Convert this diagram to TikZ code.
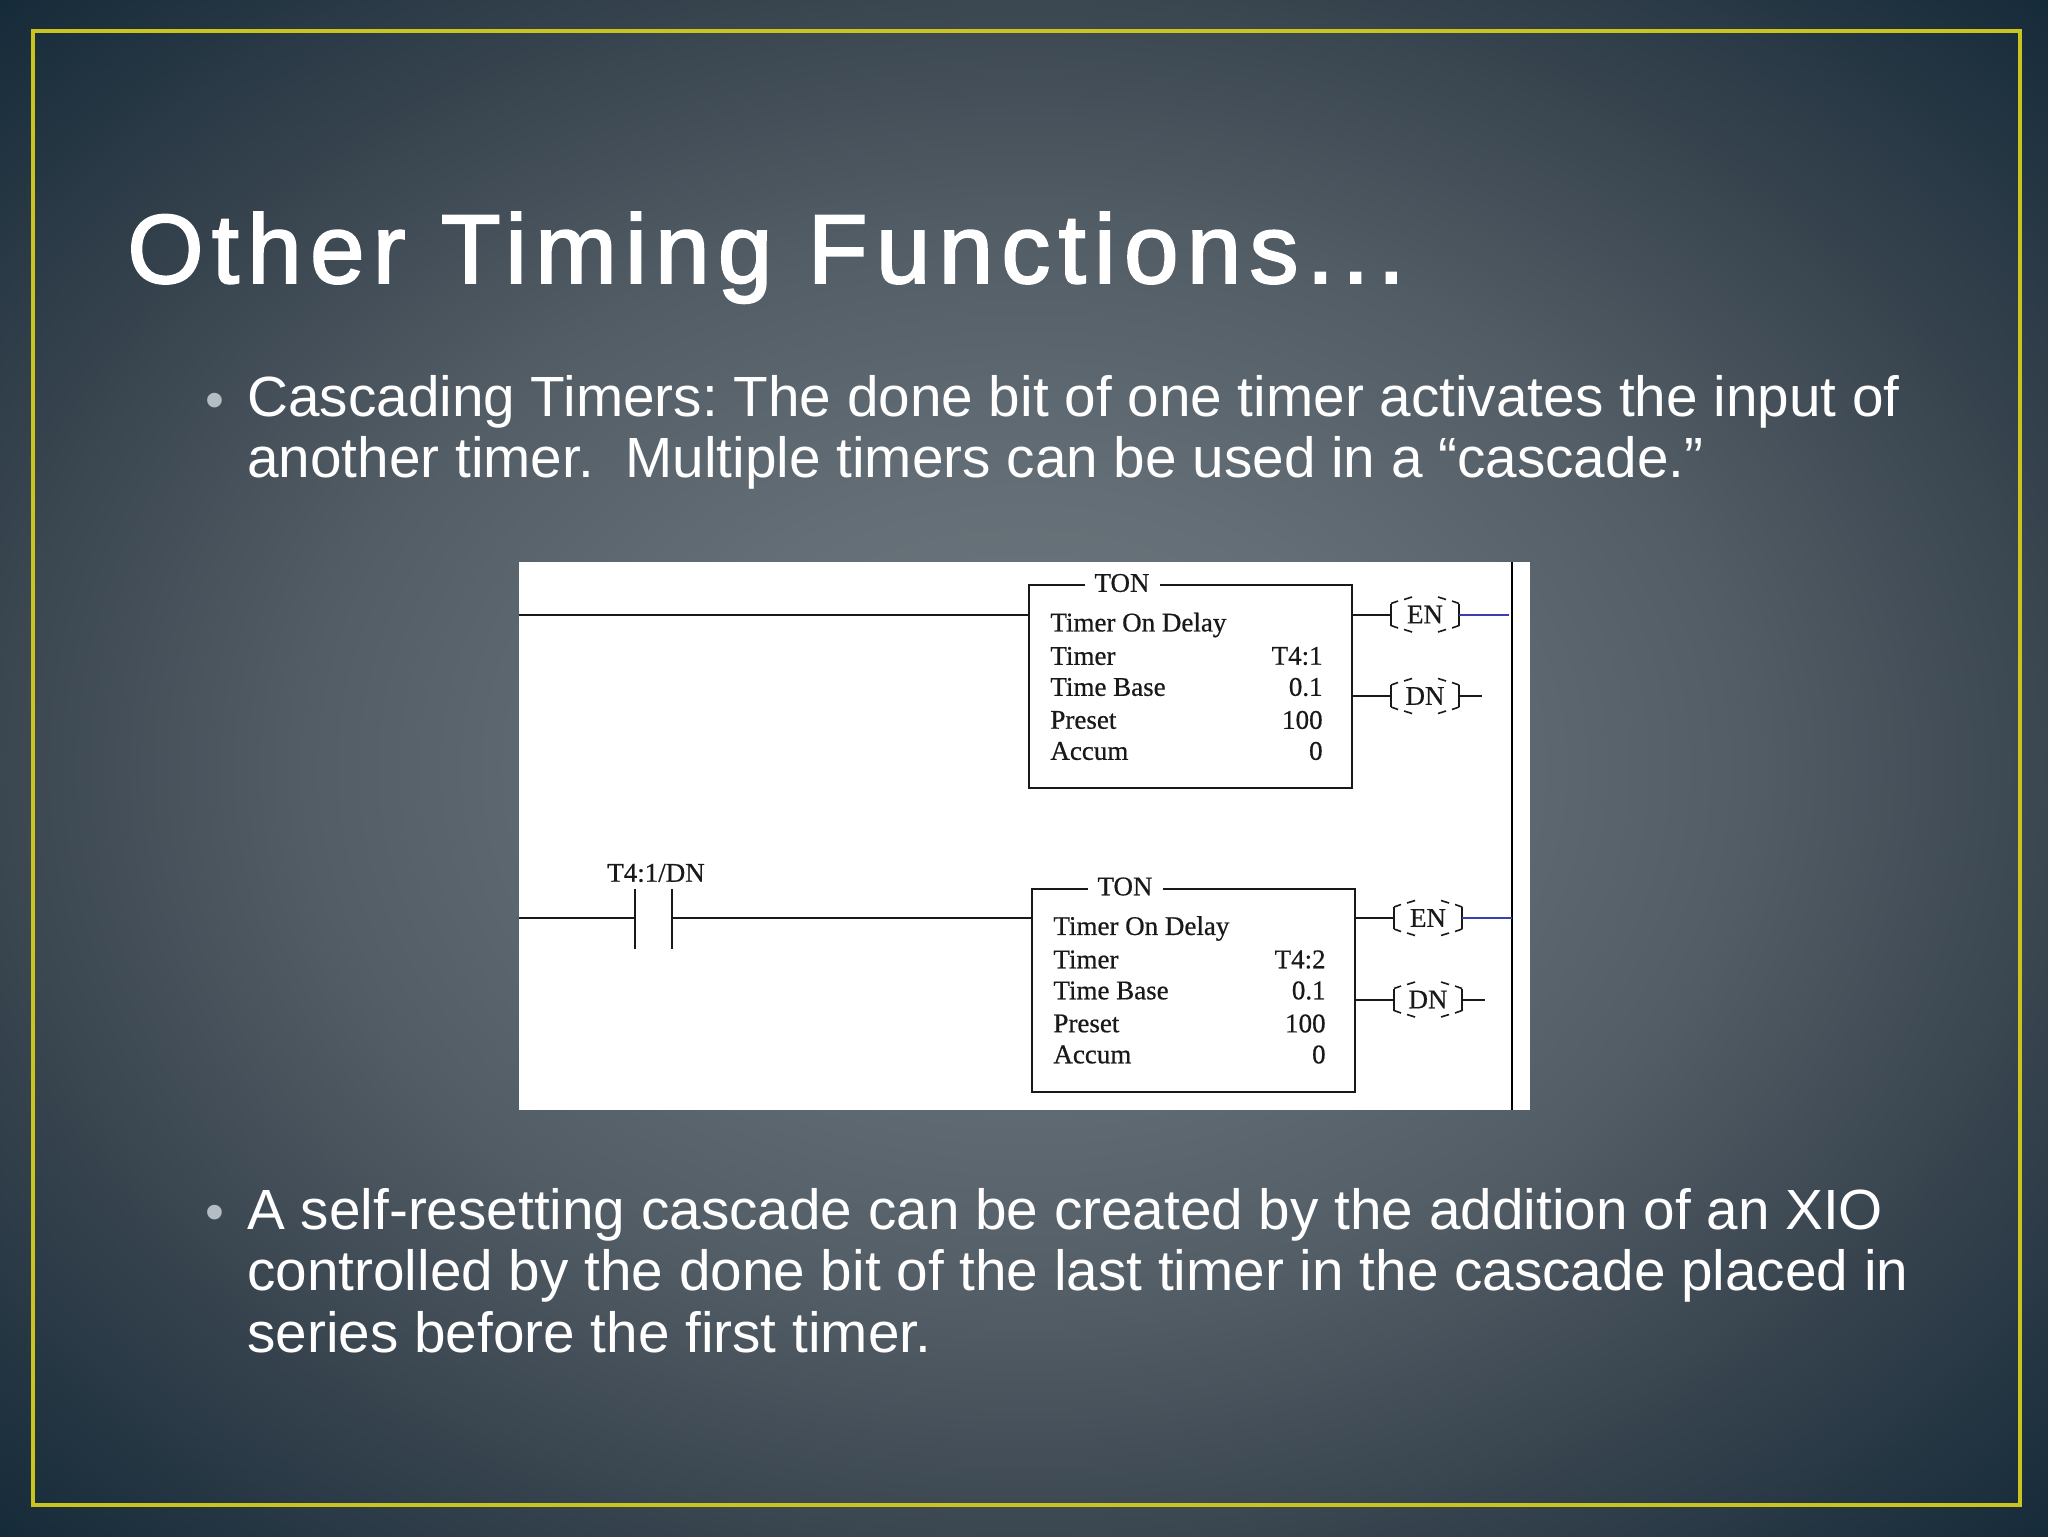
\documentclass[tikz,border=0pt]{standalone}
\usepackage{fontspec}
\setmainfont{Liberation Sans}
\newfontfamily\titlefont[LetterSpace=8.4,FakeBold=2]{Liberation Sans}
\newfontfamily\plcfont[FakeBold=0.6]{Liberation Serif}
\usetikzlibrary{positioning}
\frenchspacing

\definecolor{framecol}{HTML}{C9C41E}
\definecolor{railblue}{HTML}{3A3FB0}
\definecolor{bulletcol}{HTML}{B4BCC4}
\definecolor{bga}{HTML}{70797F}
\definecolor{bgb}{HTML}{646E76}
\definecolor{bgc}{HTML}{535D66}
\definecolor{bgd}{HTML}{3A4650}
\definecolor{bge}{HTML}{152A39}
\pgfdeclareradialshading{slidebg}{\pgfpoint{0bp}{0bp}}{%
  color(0bp)=(bga);
  color(9bp)=(bgb);
  color(17.5bp)=(bgc);
  color(25bp)=(bgd);
  color(35.5bp)=(bge);
  color(71bp)=(bge)}

\tikzset{
  bodytext/.style={anchor=north west, align=left, text=white, inner sep=0pt,
    font=\fontsize{28.35}{30.65}\selectfont},
  dotmark/.style={text=bulletcol, inner sep=0pt, font=\fontsize{27}{30}\selectfont},
  plcline/.style={line width=1pt, black!90},
  plctext/.style={inner sep=0pt, font=\plcfont\fontsize{13.5}{14}\selectfont, text=black!90},
  timerbox/.style={draw=black!90, line width=1pt, minimum width=161.5pt, minimum height=101.5pt, inner sep=0pt},
  coil/.style={plctext, minimum width=34pt, minimum height=17pt},
}

\begin{document}
\begin{tikzpicture}[x=0.5pt, y=-0.5pt]
  \useasboundingbox (0, 0) rectangle (2048, 1536);
  \shade[shading=slidebg] (0, 0) rectangle (2048, 1536);
  \draw[framecol, line width=2.2pt] (33, 31) rectangle (2020, 1505);

  \node[anchor=base west, inner sep=0pt, text=white, font=\titlefont\fontsize{49}{50}\selectfont] (title) at (127, 283) {Other Timing Functions...};

  \node[dotmark] (dot1) at (215, 406) {•};
  \node[bodytext] (para1) at (247, 375) {Cascading Timers: The done bit of one timer activates the input of\\another timer.\ \ Multiple timers can be used in a “cascade.”};

  \node[fill=white, minimum width=505.5pt, minimum height=274pt, inner sep=0pt, anchor=north west] (ladder) at (518.5, 561.5) {};
  \draw[line width=1.1pt, black] (1512, 561.5) coordinate (railtop) -- (1512, 1109.5) coordinate (railbot);

  % two rungs, second one sits 303 lower
  \foreach \t/\dx/\dy/\addr in {1/0/0/T4:1, 2/3/303.5/T4:2} {
    \begin{scope}[shift={(\dx, \dy)}]
      \node[timerbox] (box\t) at (1190.5, 686.5) {};
      \node[plctext, fill=white, inner xsep=5pt, inner ysep=1pt] (ton\t) at (1122, 583) {TON};
      \node[plctext, anchor=west] (name\t) at (1050, 625) {Timer On Delay};
      \foreach \lbl/\val/\yy in {Timer/\addr/656, Time Base/0.1/687, Preset/100/720, Accum/0/751} {
        \node[plctext, anchor=west] at (1050, \yy) {\lbl};
        \node[plctext, anchor=east] at (1323, \yy) {\val};
      }
      \node[coil] (en\t) at (1425, 614.5) {EN};
      \node[coil] (dn\t) at (1425, 696) {DN};
      \foreach \c in {en\t, dn\t} {
        \foreach \s in {-1, 1} {
          \begin{scope}[shift={(\c.center)}, xscale=\s]
            \draw[plcline, line width=0.8pt] (34, -11) -- (34, 11);
            \draw[plcline, line width=0.8pt] (34, -11) -- (27, -13.5) (21, -15) -- (13, -17.5);
            \draw[plcline, line width=0.8pt] (34, 11) -- (27, 13.5) (21, 15) -- (13, 17.5);
          \end{scope}
        }
      }
      \draw[plcline] (box\t.east |- en\t) -- (en\t.west);
      \draw[plcline] (box\t.east |- dn\t) -- (dn\t.west);
      \coordinate (dnend\t) at (1482, 696);
      \coordinate (enend\t) at (1509, 614.5);
      \draw[plcline] (dn\t.east) -- (dnend\t);
      \draw[railblue, line width=1pt] (en\t.east) -- (enend\t);
    \end{scope}
  }

  \coordinate (left1) at (518.5, 615);
  \coordinate (left2) at (518.5, 918);
  \coordinate (contactl) at (635, 918);
  \coordinate (contactr) at (672, 918);
  \draw[plcline] (left1) -- (box1.west |- left1);
  \draw[plcline] (left2) -- (contactl);
  \draw[plcline] (contactr) -- (box2.west |- contactr);
  \draw[plcline] ([yshift=14.5pt]contactl) -- ([yshift=-15.5pt]contactl);
  \draw[plcline] ([yshift=14.5pt]contactr) -- ([yshift=-15.5pt]contactr);
  \node[plctext] (contactlbl) at (656, 873) {T4:1/DN};

  \node[dotmark] (dot2) at (215, 1218) {•};
  \node[bodytext] (para2) at (247, 1188) {A self-resetting cascade can be created by the addition of an XIO\\controlled by the done bit of the last timer in the cascade placed in\\series before the first timer.};
\end{tikzpicture}
\end{document}
